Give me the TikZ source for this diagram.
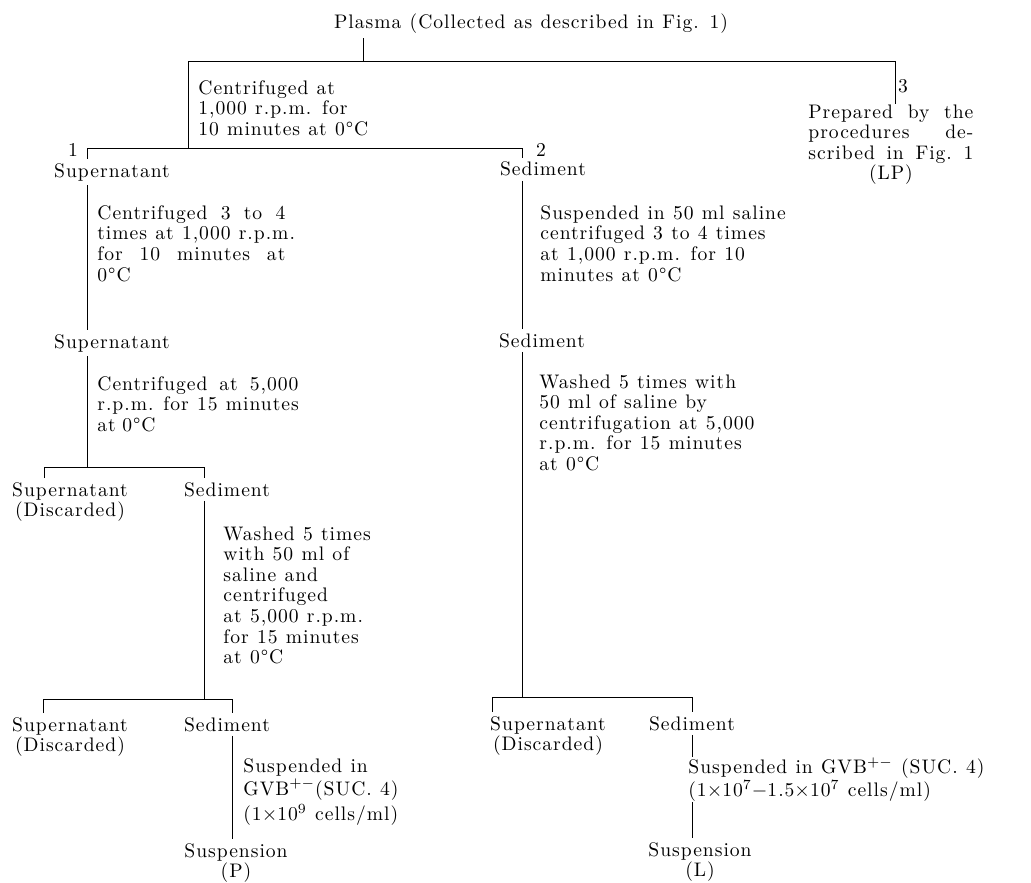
\documentclass[tikz,border=0pt]{standalone}
\usepackage{fontspec}
\setmainfont{lmroman10-regular.otf}[LetterSpace=5]
\newcommand\figfont{\fontsize{9.8pt}{10.3pt}\selectfont\spaceskip=0.42em plus 0.2em minus 0.1em\relax}
\newcommand\jline[1]{\leavevmode\hbox to \hsize{\spaceskip=0.42em plus 1fil\relax #1}}
\tikzset{
    link/.style ={line width=0.5pt, draw=black},
    lbl/.style ={inner sep=2pt, font=\figfont, anchor=base},
    lbl2/.style ={inner sep=2pt, font=\figfont, align=center, anchor=north},
    proc/.style ={inner sep=0pt, font=\figfont, align=left, anchor=north west}
}

\begin{document}
\begin{tikzpicture}[x=0.5pt,y=-0.5pt]
        \useasboundingbox (0,0) rectangle (1031,882);
        % top
        \node[lbl] (plasma) at (531,29) {Plasma (Collected as described in Fig. 1)};
        \node[proc] (c0) at (198,80) {Centrifuged at\\1,000 r.p.m. for\\10 minutes at 0°C};
        \node[lbl] (num3) at (903,93) {3};
        \node[proc, text width=82.5pt] (prep) at (808,104) {\jline{Prepared by the}\\\jline{procedures de-}\\\jline{scribed in Fig.~1}\\\makebox[\hsize]{(LP)}};
        \node[lbl] (num1) at (73,157) {1};
        \node[lbl] (sup1) at (112,177) {Supernatant};
        \node[lbl] (num2) at (541,157) {2};
        \node[lbl] (sed1) at (543,176) {Sediment};
        % column 1
        \node[proc, text width=94pt] (cA) at (97,205) {\jline{Centrifuged 3 to 4}\\\jline{times at 1,000 r.p.m.}\\\jline{for 10 minutes at}\\0°C};
        \node[lbl] (sup2) at (112,348) {Supernatant};
        \node[proc, text width=100.5pt] (cB) at (97,376) {\jline{Centrifuged at 5,000}\\\jline{r.p.m. for 15 minutes}\\at 0°C};
        \node[lbl2] (sup3) at (70,478) {Supernatant\\(Discarded)};
        \node[lbl] (sed3) at (227,496) {Sediment};
        \node[proc] (cC) at (223,526) {Washed 5 times\\with 50 ml of\\saline and\\centrifuged\\at 5,000 r.p.m.\\for 15 minutes\\at 0°C};
        \node[lbl2] (sup4) at (70,713) {Supernatant\\(Discarded)};
        \node[lbl] (sed4) at (227,731) {Sediment};
        \node[proc] (cD) at (243,758) {Suspended in\\[1.2pt]GVB$^{+-}$(SUC. 4)\\[1.2pt](1$\times$10$^{9}$ cells/ml)};
        \node[lbl2] (susP) at (236,839) {Suspension\\(P)};
        % column 2
        \node[proc] (cE) at (540,205) {Suspended in 50 ml saline\\centrifuged 3 to 4 times\\at 1,000 r.p.m. for 10\\minutes at 0°C};
        \node[lbl] (sed2) at (542,347) {Sediment};
        \node[proc] (cF) at (539,374) {Washed 5 times with\\50 ml of saline by\\centrifugation at 5,000\\r.p.m. for 15 minutes\\at 0°C};
        \node[lbl2] (sup5) at (548,712) {Supernatant\\(Discarded)};
        \node[lbl] (sed5) at (692,730) {Sediment};
        \node[proc] (cG) at (688,757) {Suspended in GVB$^{+-}$ (SUC. 4)\\(1$\times$10$^{7}-$1.5$\times$10$^{7}$ cells/ml)};
        \node[lbl2] (susL) at (700,838) {Suspension\\(L)};
        % branch points
        \coordinate (top) at (363,62);
        \coordinate (tl) at (188,62);
        \coordinate (tr) at (895,62);
        \coordinate (s1) at (188,149);
        \coordinate (h1l) at (87,149);
        \coordinate (h1r) at (522,149);
        \coordinate (j2) at (87,467);
        \coordinate (h2l) at (44,467);
        \coordinate (h2r) at (204,467);
        \coordinate (j3) at (204,699);
        \coordinate (h3l) at (43,699);
        \coordinate (h3r) at (232,699);
        \coordinate (j4) at (522,697);
        \coordinate (h4l) at (492,697);
        \coordinate (h4r) at (692,697);
        % connectors
        \draw[link] (plasma.south -| top) -- (top);
        \draw[link] (prep.north -| tr) -- (tr) -- (tl) -- (s1);
        \draw[link] (sup1.north -| h1l) -- (h1l) -- (h1r) -- (sed1.north -| h1r);
        \draw[link] (sup1.south -| h1l) -- (sup2.north -| h1l);
        \draw[link] (sup2.south -| j2) -- (j2);
        \draw[link] (sup3.north -| h2l) -- (h2l) -- (h2r) -- (sed3.north -| h2r);
        \draw[link] (sed3.south -| j3) -- (j3);
        \draw[link] (sup4.north -| h3l) -- (h3l) -- (h3r) -- (sed4.north -| h3r);
        \draw[link] (sed4.south -| h3r) -- (susP.north -| h3r);
        \draw[link] (sed1.south -| h1r) -- (sed2.north -| h1r);
        \draw[link] (sed2.south -| j4) -- (j4);
        \draw[link] (sup5.north -| h4l) -- (h4l) -- (h4r) -- (sed5.north -| h4r);
        \draw[link] (sed5.south -| h4r) -- (cG.north -| h4r);
        \draw[link] (cG.south -| h4r) -- (susL.north -| h4r);
    \end{tikzpicture}
\end{document}
